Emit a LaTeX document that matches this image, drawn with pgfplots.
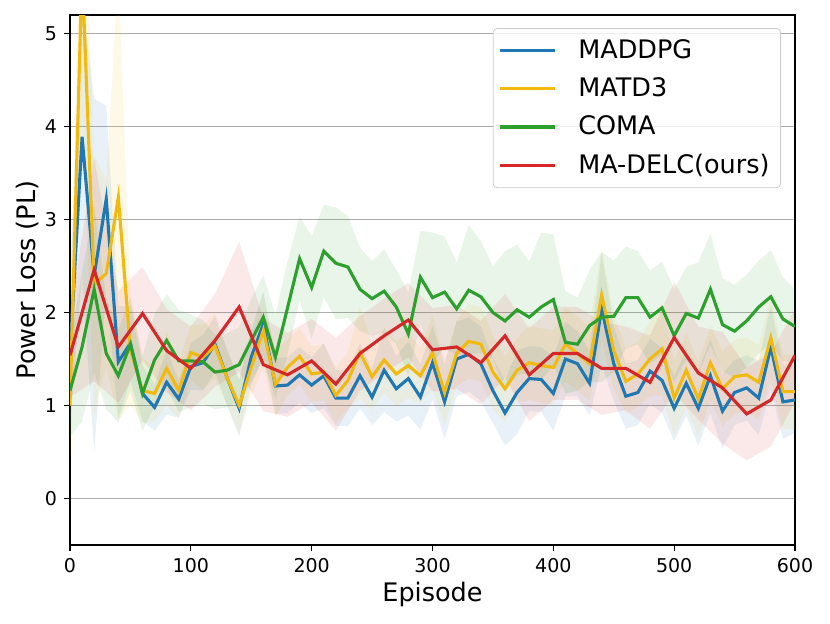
\documentclass[border=0pt]{standalone}
\usepackage{fontspec}
\setmainfont{DejaVu Sans}
\usepackage{pgfplots}
\usepackage{pgfplotstable}
\pgfplotsset{compat=1.18}
\usepgfplotslibrary{fillbetween}

\definecolor{cblue}{HTML}{1F77B4}
\definecolor{cyellow}{HTML}{F2B90F}
\definecolor{cgreen}{HTML}{2CA02C}
\definecolor{cred}{HTML}{D62728}

% x = episode, m = mean, s = half width of the shaded band
\pgfplotstableread{
x m s
0 1.55 0.8
10 3.89 1.5
20 2.40 1.9
30 3.22 1.0
40 1.47 0.6
50 1.67 0.4
60 1.13 0.3
70 0.98 0.25
80 1.25 0.35
90 1.07 0.2
100 1.42 0.25
110 1.46 0.3
120 1.66 0.3
130 1.30 0.3
140 0.97 0.3
150 1.52 0.3
160 1.88 0.35
170 1.21 0.3
180 1.22 0.3
190 1.33 0.3
200 1.22 0.3
210 1.32 0.35
220 1.08 0.3
230 1.08 0.3
240 1.32 0.35
250 1.09 0.3
260 1.38 0.45
270 1.18 0.35
280 1.29 0.4
290 1.09 0.35
300 1.46 0.4
310 1.04 0.4
320 1.50 0.4
330 1.55 0.4
340 1.45 0.4
350 1.16 0.35
360 0.92 0.35
370 1.14 0.45
380 1.29 0.35
390 1.28 0.35
400 1.13 0.4
410 1.50 0.4
420 1.45 0.35
430 1.24 0.35
440 2.04 0.6
450 1.45 0.4
460 1.10 0.35
470 1.14 0.35
480 1.37 0.35
490 1.27 0.35
500 0.97 0.35
510 1.24 0.35
520 0.97 0.4
530 1.32 0.4
540 0.94 0.4
550 1.14 0.35
560 1.19 0.35
570 1.08 0.4
580 1.63 0.45
590 1.04 0.4
600 1.06 0.35
}\maddpg

\pgfplotstableread{
x m s
0 1.00 0.7
10 5.70 1.5
20 2.30 1.4
30 2.42 1.0
40 3.24 2.4
50 1.60 0.6
60 1.16 0.35
70 1.13 0.3
80 1.40 0.4
90 1.16 0.3
100 1.57 0.3
110 1.52 0.35
120 1.64 0.35
130 1.30 0.3
140 1.00 0.3
150 1.41 0.3
160 1.81 0.4
170 1.23 0.35
180 1.41 0.3
190 1.53 0.3
200 1.34 0.3
210 1.36 0.3
220 1.11 0.3
230 1.27 0.3
240 1.57 0.5
250 1.31 0.35
260 1.49 0.35
270 1.34 0.35
280 1.43 0.35
290 1.32 0.3
300 1.57 0.4
310 1.14 0.35
320 1.56 0.35
330 1.69 0.4
340 1.66 0.4
350 1.36 0.4
360 1.18 0.35
370 1.38 0.35
380 1.46 0.4
390 1.43 0.4
400 1.41 0.4
410 1.66 0.4
420 1.56 0.4
430 1.45 0.4
440 2.19 0.5
450 1.59 0.4
460 1.26 0.35
470 1.34 0.35
480 1.50 0.4
490 1.61 0.5
500 1.08 0.4
510 1.38 0.4
520 1.07 0.4
530 1.46 0.4
540 1.18 0.4
550 1.31 0.4
560 1.33 0.4
570 1.25 0.4
580 1.73 0.45
590 1.15 0.4
600 1.15 0.4
}\matd

\pgfplotstableread{
x m s
0 1.16 0.5
10 1.63 0.8
20 2.25 0.9
30 1.56 0.6
40 1.32 0.5
50 1.66 0.5
60 1.13 0.4
70 1.49 0.5
80 1.70 0.5
90 1.48 0.55
100 1.48 0.5
110 1.47 0.45
120 1.36 0.4
130 1.38 0.4
140 1.44 0.4
150 1.70 0.45
160 1.95 0.45
170 1.52 0.45
180 2.05 0.5
190 2.58 0.45
200 2.27 0.55
210 2.66 0.5
220 2.53 0.6
230 2.49 0.55
240 2.25 0.45
250 2.15 0.4
260 2.23 0.45
270 2.06 0.4
280 1.77 0.45
290 2.38 0.5
300 2.16 0.7
310 2.22 0.6
320 2.04 0.5
330 2.24 0.7
340 2.17 0.6
350 2.00 0.5
360 1.91 0.75
370 2.03 0.7
380 1.95 0.6
390 2.06 0.8
400 2.14 0.7
410 1.68 0.55
420 1.66 0.5
430 1.86 0.6
440 1.95 0.7
450 1.96 0.6
460 2.16 0.55
470 2.16 0.5
480 1.95 0.5
490 2.05 0.5
500 1.75 0.5
510 1.99 0.5
520 1.94 0.6
530 2.25 0.6
540 1.87 0.5
550 1.80 0.5
560 1.91 0.5
570 2.06 0.5
580 2.17 0.5
590 1.93 0.45
600 1.85 0.4
}\coma

\pgfplotstableread{
x m s
0 1.54 0.45
20 2.46 1.2
40 1.63 0.6
60 1.99 0.5
80 1.59 0.45
100 1.40 0.45
120 1.70 0.5
140 2.06 0.7
160 1.44 0.5
180 1.33 0.45
200 1.48 0.45
220 1.23 0.5
240 1.56 0.4
260 1.75 0.4
280 1.92 0.4
300 1.60 0.45
320 1.63 0.45
340 1.46 0.45
360 1.75 0.45
380 1.33 0.5
400 1.56 0.5
420 1.56 0.5
440 1.40 0.5
460 1.40 0.45
480 1.25 0.5
500 1.73 0.6
520 1.35 0.5
540 1.19 0.6
560 0.91 0.5
580 1.06 0.5
600 1.54 0.5
}\madelc

\begin{document}
\begin{tikzpicture}
\begin{axis}[
  scale only axis,
  width=362.5pt, height=265pt,
  xmin=0, xmax=600, ymin=-0.5, ymax=5.2,
  xtick={0,100,...,600}, ytick={0,1,...,5},
  xtick pos=bottom, ytick pos=left, tick align=outside,
  major tick length=3pt,
  tick style={black, line width=0.6pt},
  axis line style={line width=0.7pt},
  ymajorgrids,
  grid style={color=black!32, line width=0.65pt},
  /pgf/number format/assume math mode=true,
  ticklabel style={font=\fontsize{9.5}{11}\selectfont},
  every axis x label/.style={at={(axis description cs:0.5,-0.0925)}, anchor=center},
  every axis y label/.style={at={(axis description cs:-0.0593,0.5)}, anchor=center, rotate=90},
  label style={font=\fontsize{12.75}{15}\selectfont},
  xlabel={Episode},
  ylabel={Power Loss (PL)},
  legend cell align=left,
  legend image code/.code={\draw[#1] (0pt,0pt) -- (27.5pt,0pt);},
  legend style={at={(1,1)}, anchor=north east, xshift=-7pt, yshift=-6.5pt,
    draw=black!20, rounded corners=2pt, fill=white, fill opacity=0.8, text opacity=1,
    font=\fontsize{12.75}{15}\selectfont, row sep=4.2pt, column sep=8pt,
    inner xsep=2.5pt, inner ysep=3.5pt,
    nodes={inner xsep=3pt}},
]
\addplot[cblue, line width=1.55pt] table[x=x, y=m] {\maddpg};
\addlegendentry{MADDPG}
\addplot[draw=none, forget plot, name path=bu] table[x=x, y expr=\thisrow{m}+\thisrow{s}] {\maddpg};
\addplot[draw=none, forget plot, name path=bl] table[x=x, y expr=\thisrow{m}-\thisrow{s}] {\maddpg};
\addplot[cblue, fill opacity=0.1, draw=none, forget plot] fill between[of=bu and bl];

\addplot[cyellow, line width=1.55pt] table[x=x, y=m] {\matd};
\addlegendentry{MATD3}
\addplot[draw=none, forget plot, name path=yu] table[x=x, y expr=\thisrow{m}+\thisrow{s}] {\matd};
\addplot[draw=none, forget plot, name path=yl] table[x=x, y expr=\thisrow{m}-\thisrow{s}] {\matd};
\addplot[cyellow, fill opacity=0.1, draw=none, forget plot] fill between[of=yu and yl];

\addplot[cgreen, line width=1.55pt] table[x=x, y=m] {\coma};
\addlegendentry{COMA}
\addplot[draw=none, forget plot, name path=gu] table[x=x, y expr=\thisrow{m}+\thisrow{s}] {\coma};
\addplot[draw=none, forget plot, name path=gl] table[x=x, y expr=\thisrow{m}-\thisrow{s}] {\coma};
\addplot[cgreen, fill opacity=0.1, draw=none, forget plot] fill between[of=gu and gl];

\addplot[cred, line width=1.55pt] table[x=x, y=m] {\madelc};
\addlegendentry{MA-DELC(ours)}
\addplot[draw=none, forget plot, name path=ru] table[x=x, y expr=\thisrow{m}+\thisrow{s}] {\madelc};
\addplot[draw=none, forget plot, name path=rl] table[x=x, y expr=\thisrow{m}-\thisrow{s}] {\madelc};
\addplot[cred, fill opacity=0.1, draw=none, forget plot] fill between[of=ru and rl];
\end{axis}
\path (-35pt,-39pt) rectangle (380pt,272.5pt);
\end{tikzpicture}
\end{document}
